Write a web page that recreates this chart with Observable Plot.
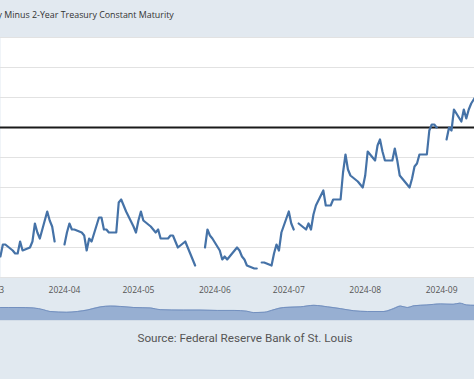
<!DOCTYPE html>
<html><head><meta charset="utf-8">
<script src="https://cdn.jsdelivr.net/npm/d3@7"></script>
<script src="https://cdn.jsdelivr.net/npm/@observablehq/plot@0.6"></script>
<style>
html,body{margin:0;padding:0;background:#e1e9f0;}
#wrap{position:relative;width:474px;height:379px;overflow:hidden;background:#e1e9f0;}
#title{position:absolute;top:0;left:0;width:474px;height:37px;overflow:hidden;background:#e2e9f0;}
#titletext{position:absolute;top:9px;left:0;white-space:nowrap;font-family:'Open Sans';font-size:8.9px;line-height:12px;color:#333;}
#chart{position:absolute;top:37px;left:0;width:474px;height:260px;overflow:hidden;}
#nav{position:absolute;top:298px;left:0;width:474px;height:22px;overflow:hidden;}
#source{position:absolute;top:320px;left:0;width:474px;height:59px;border-top:1px solid #d3dde8;background:#e1e9f0;}
#sourcetext{position:absolute;top:10px;left:8px;width:474px;text-align:center;font-family:Roboto;font-size:11.7px;line-height:14px;color:#555;}
svg{overflow:hidden;}
</style></head>
<body>
<div id="wrap">
  <div id="title"><div id="titletext"><span id="pre">10-Year Treasury Constant Maturity </span>Minus 2-Year Treasury Constant Maturity</div></div>
  <div id="chart"></div>
  <div id="nav"></div>
  <div id="source"><div id="sourcetext">Source: Federal Reserve Bank of St. Louis</div></div>
</div>
<script>
// Daily observations (business days); null = no observation (holiday)
const dates = [
"2024-03-06","2024-03-07","2024-03-08","2024-03-11","2024-03-12","2024-03-13","2024-03-14","2024-03-15","2024-03-18","2024-03-19","2024-03-20","2024-03-21","2024-03-22","2024-03-25","2024-03-26","2024-03-27","2024-03-28","2024-03-29",
"2024-04-01","2024-04-02","2024-04-03","2024-04-04","2024-04-05","2024-04-08","2024-04-09","2024-04-10","2024-04-11","2024-04-12","2024-04-15","2024-04-16","2024-04-17","2024-04-18","2024-04-19","2024-04-22","2024-04-23","2024-04-24","2024-04-25","2024-04-26","2024-04-29","2024-04-30",
"2024-05-01","2024-05-02","2024-05-03","2024-05-06","2024-05-07","2024-05-08","2024-05-09","2024-05-10","2024-05-13","2024-05-14","2024-05-15","2024-05-16","2024-05-17","2024-05-20","2024-05-21","2024-05-22","2024-05-23","2024-05-24","2024-05-27","2024-05-28","2024-05-29","2024-05-30","2024-05-31",
"2024-06-03","2024-06-04","2024-06-05","2024-06-06","2024-06-07","2024-06-10","2024-06-11","2024-06-12","2024-06-13","2024-06-14","2024-06-17","2024-06-18","2024-06-19","2024-06-20","2024-06-21","2024-06-24","2024-06-25","2024-06-26","2024-06-27","2024-06-28",
"2024-07-01","2024-07-02","2024-07-03","2024-07-04","2024-07-05","2024-07-08","2024-07-09","2024-07-10","2024-07-11","2024-07-12","2024-07-15","2024-07-16","2024-07-17","2024-07-18","2024-07-19","2024-07-22","2024-07-23","2024-07-24","2024-07-25","2024-07-26","2024-07-29","2024-07-30","2024-07-31",
"2024-08-01","2024-08-02","2024-08-05","2024-08-06","2024-08-07","2024-08-08","2024-08-09","2024-08-12","2024-08-13","2024-08-14","2024-08-15","2024-08-16","2024-08-19","2024-08-20","2024-08-21","2024-08-22","2024-08-23","2024-08-26","2024-08-27","2024-08-28","2024-08-29","2024-08-30",
"2024-09-02","2024-09-03","2024-09-04","2024-09-05","2024-09-06","2024-09-09","2024-09-10","2024-09-11","2024-09-12","2024-09-13","2024-09-16"
];
const spread = [
-0.43,-0.39,-0.39,-0.41,-0.42,-0.42,-0.38,-0.41,-0.40,-0.38,-0.32,-0.35,-0.37,-0.28,-0.31,-0.33,-0.38,null,
-0.39,-0.35,-0.32,-0.34,-0.34,-0.35,-0.36,-0.41,-0.37,-0.38,-0.30,-0.30,-0.34,-0.34,-0.35,-0.35,-0.25,-0.24,-0.26,-0.28,-0.33,-0.35,
-0.31,-0.28,-0.31,-0.33,-0.34,-0.35,-0.34,-0.37,-0.37,-0.36,-0.36,-0.38,-0.40,-0.38,-0.40,-0.42,-0.44,-0.46,null,-0.40,-0.34,-0.36,-0.37,
-0.41,-0.44,-0.43,-0.44,-0.43,-0.40,-0.41,-0.43,-0.44,-0.46,-0.47,-0.47,null,-0.45,-0.45,-0.46,-0.42,-0.39,-0.41,-0.35,
-0.28,-0.32,-0.34,null,-0.32,-0.34,-0.32,-0.34,-0.29,-0.26,-0.21,-0.26,-0.26,-0.26,-0.24,-0.24,-0.15,-0.09,-0.14,-0.16,-0.18,-0.19,-0.20,
-0.16,-0.08,-0.11,-0.06,-0.04,-0.08,-0.11,-0.11,-0.07,-0.11,-0.16,-0.17,-0.20,-0.17,-0.13,-0.12,-0.09,-0.09,-0.01,0.01,0.01,0.00,
null,-0.04,0.00,-0.01,0.06,0.02,0.06,0.03,0.06,0.08,0.12
];
const xTicks = ["2024-03-01","2024-04-01","2024-05-01","2024-06-01","2024-07-01","2024-08-01","2024-09-01"];
const yGrid = [-0.5,-0.4,-0.3,-0.2,-0.1,0,0.1,0.2,0.3];
const zeroLine = [0];
const viewStart = "2024-03-06T01:00:00Z";
const viewEnd = "2024-09-14T08:00:00Z";

// Navigator (full history, overview strip)
const navYears = [1976.0,1977.7,1979.4,1980.4,1981.1,1982.8,1983.9,1984.9,1986.3,1987.3,1988.3,1989.7,1991.4,1992.4,1994.8,1996.5,1998.3,2000.0,2001.3,2002.0,2003.1,2004.1,2005.1,2006.8,2008.2,2009.6,2010.9,2012.3,2013.7,2015.4,2016.4,2017.1,2017.8,2018.5,2019.8,2021.2,2022.5,2023.2,2023.9,2024.7];
const navSpread = [0.75,0.75,0.64,0.21,-0.25,-0.44,-0.25,0.10,0.91,1.10,1.02,0.75,0.64,0.21,0.10,0.10,0.02,0.02,-0.17,-0.52,-0.44,0.21,0.75,0.91,1.29,0.91,0.48,-0.06,-0.25,-0.25,0.48,1.10,0.75,1.19,1.38,1.65,1.56,1.84,1.38,1.29];
const navBase = -2.5;
const navTop = 3.0;

const data = dates.map((d, i) => ({date: new Date(d + "T00:00:00Z"), value: spread[i]}));
const nav = navYears.map((y, i) => ({year: y, v: navSpread[i]}));

const chart = Plot.plot({
  width: 474, height: 260,
  marginTop: 0, marginBottom: 20, marginLeft: 0, marginRight: 0,
  style: {background: "transparent", fontFamily: "'Open Sans'", fontSize: "8.5px", color: "#555"},
  x: {type: "utc", domain: [new Date(viewStart), new Date(viewEnd)]},
  y: {domain: [-0.5, 0.3], axis: null},
  marks: [
    Plot.frame({fill: "white", stroke: "none"}),
    Plot.ruleY(yGrid, {stroke: "#e2e2e2", strokeWidth: 1}),
    Plot.ruleY(zeroLine, {stroke: "#1a1a1a", strokeWidth: 1.8}),
    Plot.lineY(data, {x: "date", y: "value", stroke: "#4572a7", strokeWidth: 2.2, clip: true}),
    Plot.axisX(xTicks.map(d => new Date(d + "T00:00:00Z")), {tickSize: 0, tickPadding: 9, tickFormat: d3.utcFormat("%Y-%m"), fill: "#555", fontSize: 8.5})
  ]
});
document.getElementById("chart").appendChild(chart);

const navChart = Plot.plot({
  width: 474, height: 22, margin: 0,
  style: {background: "transparent"},
  x: {domain: [navYears[0], navYears[navYears.length - 1]], axis: null},
  y: {domain: [navBase, navTop], axis: null},
  marks: [
    Plot.areaY(nav, {x: "year", y1: () => navBase, y2: "v", fill: "#97afd2", curve: "monotone-x"}),
    Plot.lineY(nav, {x: "year", y: "v", stroke: "#7390bf", strokeWidth: 1, curve: "monotone-x"})
  ]
});
document.getElementById("nav").appendChild(navChart);

// position the (cropped) title so that "Minus" starts near the left edge
const pre = document.getElementById("pre");
document.getElementById("titletext").style.left = (4.3 - pre.getBoundingClientRect().width) + "px";
</script>
</body></html>
